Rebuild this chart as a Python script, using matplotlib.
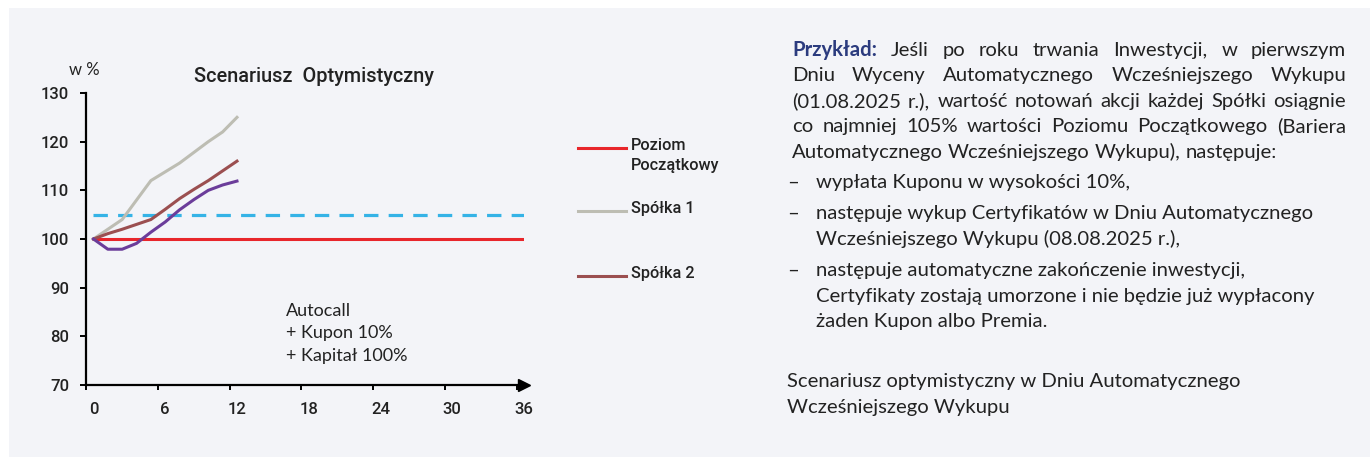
import matplotlib
matplotlib.use("Agg")
import matplotlib.pyplot as plt
from matplotlib.lines import Line2D
from matplotlib.patches import Rectangle

# data
months = [0, 1.2, 2.4, 3.6, 4.8, 6.0, 7.2, 8.4, 9.6, 10.8, 12.0]
spolka1 = [100, 102.0, 104.0, 108.0, 112.0, 113.8, 115.6, 117.8, 120.0, 122.0, 125.0]
spolka2 = [100, 101.1, 102.0, 103.0, 104.0, 106.1, 108.3, 110.2, 112.0, 114.0, 116.0]
spolka3 = [100, 97.9, 97.9, 99.1, 101.4, 103.5, 106.0, 108.1, 110.0, 111.1, 111.9]
level_x = [0, 36]
poziom = [100, 100]
bariera = [105, 105]
x_ticks = [0, 6, 12, 18, 24, 30, 36]
y_ticks = [70, 80, 90, 100, 110, 120, 130]
legend_labels = ["Poziom\nPoczątkowy", "Spółka 1", "Spółka 2"]

W, H = 1370, 457
BG = "#f3f4f8"
TXT = "#222222"
RED = "#e8262b"
GREY = "#bdbdb3"
BROWN = "#9b4f50"
PURPLE = "#6b3d9a"
BLUE = "#35b3e6"
NAVY = "#2b3b7e"
BODY = "Lato"
HEAD = "Roboto"

fig = plt.figure(figsize=(W / 100, H / 100), dpi=100)
fig.patch.set_facecolor("white")
fig.add_artist(Rectangle((9 / W, 0), 1, 1 - 8 / H, transform=fig.transFigure,
                         facecolor=BG, edgecolor="none", zorder=-10))


def fx(x):
    return x / W


def fy(y):
    return 1 - y / H


# chart
ax = fig.add_axes([fx(86), fy(385), (524 - 86) / W, (385 - 93) / H])
ax.set_facecolor("none")
ax.set_xlim(-0.625, 35.875)
ax.set_ylim(70, 130)

ax.plot(level_x, bariera, color=BLUE, lw=2.3, dashes=(4.5, 3.2), zorder=2)
ax.plot(level_x, poziom, color=RED, lw=2.2, solid_capstyle="butt", zorder=3)
ax.plot(months, spolka1, color=GREY, lw=2.2, zorder=4)
ax.plot(months, spolka2, color=BROWN, lw=2.2, zorder=5)
ax.plot(months, spolka3, color=PURPLE, lw=2.2, zorder=6)

for s in ["top", "right"]:
    ax.spines[s].set_visible(False)
for s in ["left", "bottom"]:
    ax.spines[s].set_linewidth(1.6)
    ax.spines[s].set_color("black")
ax.plot(1, 0, ">", color="black", markersize=9, transform=ax.transAxes, clip_on=False)

ax.set_xticks(x_ticks)
ax.set_xticklabels([str(t) for t in x_ticks])
ax.set_xticks([t - 0.625 for t in x_ticks], minor=True)
ax.tick_params(axis="x", which="major", length=0, pad=12)
ax.tick_params(axis="x", which="minor", length=3.5, width=1.4, direction="out")
ax.set_yticks(y_ticks)
ax.tick_params(axis="y", length=4, width=1.4, pad=8)
for lab in ax.get_xticklabels() + ax.get_yticklabels():
    lab.set_fontfamily(HEAD)
    lab.set_fontweight("medium")
    lab.set_fontsize(12)
    lab.set_color(TXT)

fig.text(fx(69), fy(70), "w %", family=BODY, fontsize=12, color=TXT, va="center")
fig.text(fx(314), fy(77), "Scenariusz  Optymistyczny", family=HEAD, fontweight="medium",
         fontsize=14.3, color=TXT, ha="center", va="center")
fig.text(fx(286), fy(311), "Autocall", family=BODY, fontsize=13, color=TXT, va="center")
fig.text(fx(286), fy(333), "+ Kupon 10%", family=BODY, fontsize=13, color=TXT, va="center")
fig.text(fx(286), fy(356), "+ Kapitał 100%", family=BODY, fontsize=13, color=TXT, va="center")

# legend
for lab, col, y in zip(legend_labels, [RED, GREY, BROWN], [148, 211, 276]):
    fig.add_artist(Line2D([fx(578), fx(626)], [fy(y), fy(y)], color=col, lw=2.2,
                          transform=fig.transFigure))
    fig.text(fx(631), fy(y - 10), lab, family=HEAD, fontweight="medium", fontsize=11.7,
             color=TXT, va="top", linespacing=1.4)

# right-hand text
renderer = fig.canvas.get_renderer()
SIZE = 14.6


def justified(words, y, x0, x1, bold_first=False, justify=True):
    arts = []
    for i, w in enumerate(words):
        if bold_first and i == 0:
            t = fig.text(0, 0, w, family=BODY, fontweight="bold", color=NAVY,
                         fontsize=SIZE, va="baseline")
        else:
            t = fig.text(0, 0, w, family=BODY, color=TXT, fontsize=SIZE, va="baseline")
        arts.append(t)
    widths = [t.get_window_extent(renderer).width for t in arts]
    a = fig.text(0, 0, "a a", fontsize=SIZE, family=BODY)
    b = fig.text(0, 0, "aa", fontsize=SIZE, family=BODY)
    space = a.get_window_extent(renderer).width - b.get_window_extent(renderer).width
    a.remove()
    b.remove()
    if justify and len(words) > 1:
        gap = max((x1 - x0 - sum(widths)) / (len(words) - 1), space * 0.8)
    else:
        gap = space
    x = x0
    for t, w in zip(arts, widths):
        t.set_position((fx(x), fy(y)))
        x += w + gap


para = [
    "Przykład: Jeśli po roku trwania Inwestycji, w pierwszym",
    "Dniu Wyceny Automatycznego Wcześniejszego Wykupu",
    "(01.08.2025 r.), wartość notowań akcji każdej Spółki osiągnie",
    "co najmniej 105% wartości Poziomu Początkowego (Bariera",
]
base = [56, 81, 107, 132]
for i, (line, y) in enumerate(zip(para, base)):
    justified(line.split(" "), y, 792, 1346, bold_first=(i == 0))
justified("Automatycznego Wcześniejszego Wykupu), następuje:".split(" "), 158, 792, 1346,
          justify=False)

bullets = [
    (["wypłata Kuponu w wysokości 10%,"], 188),
    (["następuje wykup Certyfikatów w Dniu Automatycznego",
      "Wcześniejszego Wykupu (08.08.2025 r.),"], 219),
    (["następuje automatyczne zakończenie inwestycji,",
      "Certyfikaty zostają umorzone i nie będzie już wypłacony",
      "żaden Kupon albo Premia."], 276),
]
for lines, y in bullets:
    fig.text(fx(787), fy(y), "–", family=BODY, fontsize=SIZE, color=TXT, va="baseline")
    for j, line in enumerate(lines):
        fig.text(fx(816), fy(y + j * 25.7), line, family=BODY, fontsize=SIZE, color=TXT,
                 va="baseline")

fig.text(fx(787), fy(387), "Scenariusz optymistyczny w Dniu Automatycznego",
         family=BODY, fontsize=SIZE, color=TXT, va="baseline")
fig.text(fx(787), fy(413), "Wcześniejszego Wykupu",
         family=BODY, fontsize=SIZE, color=TXT, va="baseline")

fig.savefig("out.png", dpi=100, facecolor=fig.get_facecolor())
